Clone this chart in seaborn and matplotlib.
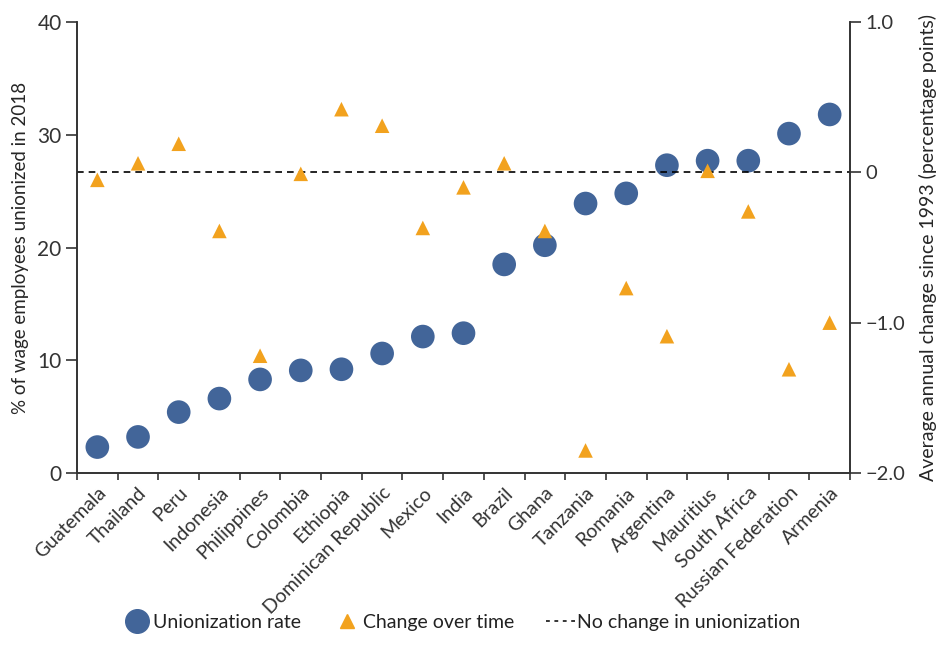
import matplotlib
matplotlib.use("Agg")
import matplotlib.pyplot as plt
from matplotlib.lines import Line2D
from matplotlib.ticker import FixedLocator
import seaborn as sns
import pandas as pd

# --- data ---
countries = ["Guatemala", "Thailand", "Peru", "Indonesia", "Philippines", "Colombia",
             "Ethiopia", "Dominican Republic", "Mexico", "India", "Brazil", "Ghana",
             "Tanzania", "Romania", "Argentina", "Mauritius", "South Africa",
             "Russian Federation", "Armenia"]
union_rate = [2.3, 3.2, 5.4, 6.6, 8.3, 9.1, 9.2, 10.6, 12.1, 12.4, 18.5, 20.2,
              23.9, 24.8, 27.3, 27.7, 27.7, 30.1, 31.8]
change = [-0.05, 0.06, 0.19, -0.39, -1.22, -0.01, 0.42, 0.31, -0.37, -0.10, 0.06,
          -0.39, -1.85, -0.77, -1.09, 0.01, -0.26, -1.31, -1.0]

blue = "#426599"
orange = "#F2A21E"
dark = "#333333"

sns.set_style("ticks")
plt.rcParams["font.family"] = ["Lato", "DejaVu Sans"]
plt.rcParams["axes.edgecolor"] = dark
plt.rcParams["xtick.color"] = dark
plt.rcParams["ytick.color"] = dark
plt.rcParams["text.color"] = "#222222"

df = pd.DataFrame({"country": countries, "rate": union_rate, "change": change})
df["pos"] = range(len(df))

fig = plt.figure(figsize=(9.41, 6.45), dpi=100)
ax = fig.add_axes([77 / 941, 1 - 473 / 645, (850 - 77) / 941, (473 - 22) / 645])
ax2 = ax.twinx()

sns.scatterplot(data=df, x="pos", y="rate", ax=ax, color=blue, s=290,
                marker="o", edgecolor="none", zorder=3, legend=False)
sns.scatterplot(data=df, x="pos", y="change", ax=ax2, color=orange, s=110,
                marker="^", edgecolor="none", zorder=3, legend=False)
ax2.axhline(0, color="black", lw=1.2, ls=(0, (4, 3)), zorder=1)

ax.set_xlim(-0.5, len(countries) - 0.5)
ax.set_ylim(0, 40)
ax2.set_ylim(-2, 1)

ax.set_yticks([0, 10, 20, 30, 40])
ax.tick_params(axis="y", labelsize=15, length=8, width=1.2, pad=3)
ax2.set_yticks([1, 0, -1, -2], ["1.0", "0", "\u22121.0", "\u22122.0"])
ax2.tick_params(axis="y", labelsize=14.5, length=8, width=1.2, pad=3)

ax.set_xticks(df["pos"])
ax.set_xticklabels(countries, rotation=45, ha="right", va="top",
                   rotation_mode="anchor", fontsize=14)
ax.tick_params(axis="x", which="major", length=0, pad=8)
ax.xaxis.set_minor_locator(FixedLocator([i - 0.5 for i in range(len(countries) + 1)]))
ax.tick_params(axis="x", which="minor", length=5, width=1.2, direction="out")

for a in (ax, ax2):
    a.spines["top"].set_visible(False)
    for s in ("left", "right", "bottom"):
        a.spines[s].set_linewidth(1.2)
ax.set_xlabel("")
ax.set_ylabel("% of wage employees unionized in 2018", fontsize=13.5, labelpad=6)
ax2.set_ylabel("Average annual change since 1993 (percentage points)",
               fontsize=14, labelpad=10)

handles = [
    Line2D([], [], marker="o", ls="none", color=blue, markersize=17),
    Line2D([], [], marker="^", ls="none", color=orange, markersize=10),
    Line2D([], [], ls=(0, (2.5, 3)), color="black", lw=1.1),
]
fig.legend(handles, ["Unionization rate", "Change over time", "No change in unionization"],
           loc="lower center", bbox_to_anchor=(0.49, -0.005), ncol=3, frameon=False,
           fontsize=14, handlelength=1.5, handletextpad=0.1, columnspacing=1.6)

fig.savefig("out.png", dpi=100)
